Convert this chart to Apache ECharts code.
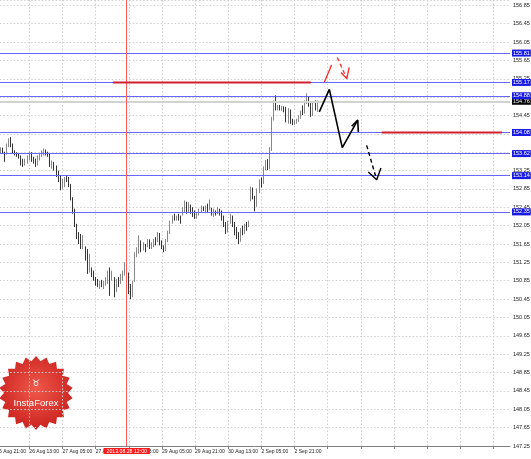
<!DOCTYPE html>
<html><head><meta charset="utf-8">
<script src="https://cdn.jsdelivr.net/npm/echarts@6/dist/echarts.min.js"></script>
<style>html,body{margin:0;padding:0;background:#fff}#c{width:531px;height:459px}</style>
</head><body><div id="c"></div>
<script>
// ---- axis settings (data units) ----
const BASE = 147.25;          // lowest price tick
const TOP = 156.966;          // price at top edge
const SLOTS = 249;            // hourly slots shown (incl. empty future)
const tickLabels = ['25 Aug 21:00','26 Aug 13:00','27 Aug 05:00','27 Aug 21:00','28 Aug 13:00','29 Aug 05:00','29 Aug 21:00','30 Aug 13:00','2 Sep 05:00','2 Sep 21:00'];

// ---- hourly OHLC ----
const opens = [153.66,153.72,153.68,153.74,153.66,153.60,153.80,153.90,153.82,153.66,153.62,153.58,153.54,153.40,153.36,153.48,153.56,153.62,153.46,153.42,153.36,153.52,153.60,153.66,153.70,153.62,153.58,153.38,153.44,153.30,153.14,153.02,152.86,153.00,153.08,153.04,152.92,152.64,152.36,152.06,151.80,151.70,151.58,151.58,151.34,151.10,151.14,150.98,150.88,150.80,150.76,150.82,150.74,150.80,150.90,151.04,150.90,150.92,150.60,150.84,150.80,150.96,151.04,151.20,151.00,150.62,150.50,150.82,151.42,151.52,151.72,151.52,151.64,151.60,151.74,151.60,151.66,151.74,151.70,151.88,151.66,151.58,151.50,151.74,151.92,152.14,152.22,152.18,152.26,152.20,152.28,152.42,152.56,152.36,152.50,152.38,152.28,152.22,152.30,152.38,152.44,152.40,152.46,152.42,152.44,152.30,152.36,152.30,152.42,152.32,152.20,152.04,151.90,152.10,152.26,152.06,151.88,151.80,151.70,151.92,151.90,152.00,152.04,152.62,152.86,152.66,152.48,152.80,153.02,152.98,153.30,153.42,153.30,153.70,154.36,154.70,154.62,154.64,154.60,154.62,154.56,154.34,154.58,154.32,154.28,154.30,154.36,154.42,154.56,154.50,154.74,154.84,154.72,154.46,154.70,154.60];
const closes = [153.72,153.68,153.74,153.66,153.60,153.80,153.90,153.82,153.66,153.62,153.58,153.54,153.40,153.36,153.48,153.56,153.62,153.46,153.42,153.36,153.52,153.60,153.66,153.70,153.62,153.58,153.38,153.44,153.30,153.14,153.02,152.86,153.00,153.08,153.04,152.92,152.64,152.36,152.06,151.80,151.70,151.58,151.62,151.34,151.10,151.16,150.98,150.88,150.80,150.76,150.82,150.74,150.80,150.90,151.04,150.58,151.02,150.55,150.84,150.76,150.96,151.04,151.20,151.00,150.62,150.50,150.82,151.42,151.52,151.78,151.52,151.66,151.52,151.74,151.60,151.66,151.74,151.70,151.88,151.66,151.58,151.50,151.74,151.92,152.14,152.22,152.18,152.26,152.20,152.14,152.42,152.56,152.36,152.50,152.38,152.28,152.22,152.30,152.38,152.44,152.40,152.46,152.42,152.44,152.30,152.36,152.30,152.42,152.32,152.20,152.04,151.90,152.10,152.26,152.06,151.88,151.80,151.70,151.92,151.86,152.00,151.96,152.10,152.86,152.66,152.48,152.80,153.02,152.92,153.30,153.42,153.30,153.70,154.36,154.70,154.62,154.64,154.60,154.62,154.56,154.34,154.58,154.32,154.28,154.30,154.36,154.42,154.56,154.50,154.74,154.84,154.72,154.46,154.70,154.60,154.76];
const lows = [153.62,153.64,153.62,153.62,153.44,153.60,153.76,153.76,153.62,153.58,153.55,153.51,153.36,153.33,153.36,153.40,153.47,153.44,153.40,153.33,153.36,153.47,153.55,153.58,153.58,153.55,153.33,153.29,153.25,153.11,153.00,152.82,152.85,152.89,153.00,152.89,152.60,152.31,152.02,151.76,151.65,151.54,151.54,151.29,151.00,151.03,150.93,150.85,150.74,150.71,150.67,150.71,150.67,150.74,150.78,150.52,150.85,150.49,150.60,150.71,150.78,150.85,150.96,150.93,150.56,150.45,150.49,150.82,151.36,151.44,151.47,151.51,151.47,151.58,151.54,151.54,151.58,151.62,151.69,151.62,151.54,151.47,151.50,151.69,151.87,152.09,152.16,152.16,152.16,152.09,152.27,152.34,152.31,152.34,152.31,152.24,152.20,152.20,152.27,152.34,152.37,152.34,152.34,152.38,152.27,152.24,152.27,152.30,152.27,152.16,152.02,151.87,151.90,152.09,152.02,151.84,151.76,151.65,151.70,151.84,151.87,151.94,152.02,152.58,152.62,152.36,152.46,152.76,152.88,152.96,153.26,153.26,153.28,153.68,154.34,154.56,154.56,154.56,154.55,154.52,154.30,154.27,154.27,154.24,154.24,154.27,154.31,154.38,154.46,154.49,154.70,154.64,154.42,154.44,154.56,154.53];
const highs = [153.76,153.78,153.76,153.75,153.66,153.84,153.95,153.98,153.84,153.69,153.65,153.62,153.58,153.51,153.51,153.58,153.66,153.65,153.55,153.51,153.58,153.62,153.69,153.73,153.71,153.66,153.62,153.47,153.44,153.36,153.25,153.14,153.07,153.11,153.15,153.11,152.96,152.67,152.42,152.09,151.91,151.87,151.84,151.60,151.54,151.44,151.14,151.07,150.93,150.89,150.85,150.87,150.85,150.93,151.07,151.14,151.07,150.93,150.89,150.93,151.00,151.07,151.25,151.22,151.03,150.78,150.85,151.47,151.58,151.84,151.73,151.69,151.65,151.76,151.75,151.69,151.76,151.80,151.91,151.89,151.73,151.62,151.76,151.94,152.16,152.27,152.31,152.27,152.31,152.27,152.45,152.60,152.57,152.56,152.51,152.45,152.38,152.34,152.42,152.49,152.47,152.49,152.53,152.62,152.44,152.42,152.38,152.45,152.42,152.38,152.27,152.13,152.16,152.31,152.27,152.13,152.02,151.91,152.00,152.05,152.09,152.13,152.16,152.90,152.88,152.70,152.86,153.06,153.10,153.34,153.48,153.50,153.76,154.42,154.78,154.89,154.68,154.68,154.66,154.65,154.64,154.61,154.58,154.38,154.35,154.38,154.45,154.56,154.67,154.78,154.93,154.86,154.76,154.74,154.78,154.78];

// ---- price levels ----
const levels = [155.81,155.17,154.88,154.08,153.62,153.14,152.35];
const bid = 154.76;
const cursorIndex = 63;
const cursorLabel = '2013.08.28 12:00';

// ---- hand-drawn analysis marks: [slot, price] ----
const redLevelA = [[56.4,155.17],[151.9,155.17]];
const redLevelB = [[186.1,154.08],[244.1,154.08]];
const blackZig = [[155.95,154.53],[160.8,155.02],[167.05,153.75],[174.5,154.35]];
const blackZigHead = [[171.6,154.215],[174.5,154.35],[174.8,154.09]];
const blackDash = [[178.8,153.80],[183.65,153.05]];
const blackDashHead = [[179.6,153.22],[183.65,153.05],[185.7,153.305]];
const redUp = [[158.4,155.18],[161.9,155.55]];
const redDash = [[164.6,155.715],[169.2,155.256]];
const redDashHead = [[166.4,155.387],[169.2,155.256],[170.4,155.497]];

// ---- build ----
const cats = [];
for (let i = 0; i < SLOTS; i++) cats.push(String(i));
const candles = opens.map((o, i) => [o - BASE, closes[i] - BASE, lows[i] - BASE, highs[i] - BASE]);
const sh = pts => pts.map(p => [p[0], p[1] - BASE]);
const FONT = 'Liberation Sans';
const lblBox = (txt, bg) => ({show: true, position: 'end', formatter: txt, backgroundColor: bg, color: '#fff',
  fontSize: 5.5, fontFamily: FONT, padding: [1, 1, 0, 1], distance: 2});

const markData = levels.map(v => ({yAxis: v - BASE, lineStyle: {color: '#6666ff', width: 1, type: 'solid', opacity: 1}, label: lblBox(v.toFixed(2), '#1a1ae6')}));
markData.unshift({yAxis: bid - BASE, lineStyle: {color: '#d2d2d2', width: 2, type: 'solid', opacity: 1}, label: lblBox(bid.toFixed(2), '#000')});
markData.push({xAxis: String(cursorIndex), lineStyle: {color: '#ff5a5a', width: 1, type: 'solid', opacity: 1},
  label: {show: true, position: 'start', formatter: cursorLabel, backgroundColor: '#ff1a1a', color: '#fff', fontSize: 5.2, fontFamily: FONT, padding: [1, 3, 0, 3], distance: 2}});

function draw(pts, color, width, dashed) {
  return {type: 'line', xAxisIndex: 1, yAxisIndex: 0, data: sh(pts), symbol: 'none', silent: true, z: 5,
    lineStyle: {color: color, width: width, type: dashed ? [4, 3] : 'solid'}};
}

// starburst badge geometry (decoration)
const star = [];
const cx = 36, cy = 393, R = 37, r = 32, n = 22;
for (let k = 0; k < n * 2; k++) {
  const a = Math.PI * k / n - Math.PI / 2;
  const rad = k % 2 ? r : R;
  star.push([cx + rad * Math.cos(a), cy + rad * Math.sin(a)]);
}

const chart = echarts.init(document.getElementById('c'));
chart.setOption({
  animation: false,
  backgroundColor: '#fff',
  grid: {left: -3.8, right: 21, top: 0, bottom: 13, containLabel: false, outerBoundsMode: 'none'},
  xAxis: [{
    type: 'category', data: cats, boundaryGap: false,
    axisLine: {show: true, lineStyle: {color: '#808080'}},
    axisTick: {show: true, interval: 15, length: 3, lineStyle: {color: '#808080'}},
    axisLabel: {interval: 15, align: 'left', margin: 3, fontSize: 5, fontFamily: FONT, color: '#222',
      formatter: (v, i) => tickLabels[i / 16] || ''},
    splitLine: {show: true, interval: 15, lineStyle: {color: '#cfcfcf', type: [1.5, 2]}}
  }, {
    type: 'value', min: 0, max: SLOTS - 1, show: false, splitLine: {show: false}
  }],
  yAxis: [{
    type: 'value', position: 'right', min: 0, max: TOP - BASE, interval: 0.4,
    axisLine: {show: true, lineStyle: {color: '#808080'}},
    axisTick: {show: false},
    axisLabel: {margin: 3, fontSize: 5.5, fontFamily: FONT, color: '#222', showMaxLabel: false,
      formatter: v => (v + BASE).toFixed(2)},
    splitLine: {show: true, lineStyle: {color: '#cfcfcf', type: [1.5, 2]}}
  }],
  series: [{
    type: 'candlestick', data: candles, barWidth: 1.3, z: 3,
    itemStyle: {color: '#6a6a6a', color0: '#000', borderColor: '#6a6a6a', borderColor0: '#000', borderWidth: 0.8},
    markLine: {silent: true, symbol: ['none', 'none'], animation: false,
      lineStyle: {color: '#6666ff', type: 'solid', opacity: 1}, data: markData}
  },
    draw(redLevelA, '#d0202e', 2, false),
    draw(redLevelB, '#d0202e', 2, false),
    draw(blackZig, '#000', 1.6, false),
    draw(blackZigHead, '#000', 1.6, false),
    draw(blackDash, '#000', 1.4, true),
    draw(blackDashHead, '#000', 1.4, false),
    draw(redUp, '#ff3030', 1.4, false),
    draw(redDash, '#ff3030', 1.4, true),
    draw(redDashHead, '#ff3030', 1.4, false)
  ],
  graphic: [{
    type: 'group', z: 10, children: [
      {type: 'polygon', shape: {points: star},
        style: {fill: new echarts.graphic.RadialGradient(0.5, 0.45, 0.6, [{offset: 0, color: '#f0584a'}, {offset: 1, color: '#c81f1c'}])}},
      {type: 'text', x: cx, y: 403, style: {text: 'InstaForex', fill: '#fff', fontSize: 9.5, fontFamily: FONT, align: 'center', verticalAlign: 'middle'}},
      {type: 'text', x: cx, y: 384, style: {text: '♉', fill: '#fff', fontSize: 9, fontFamily: 'DejaVu Sans', align: 'center', verticalAlign: 'middle'}}
    ]
  }]
});
</script></body></html>
